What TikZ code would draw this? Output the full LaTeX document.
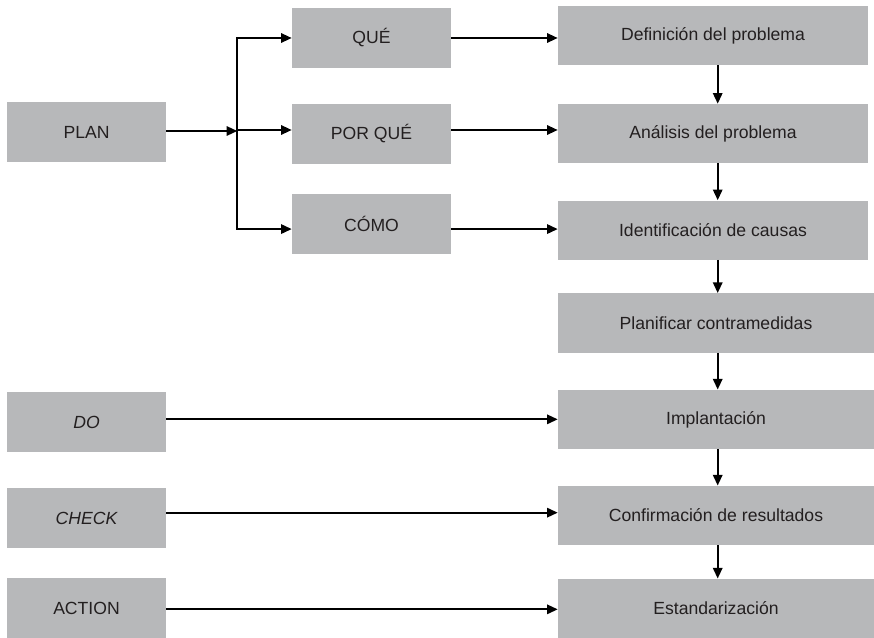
\documentclass[tikz,border=0pt]{standalone}
\usepackage{fontspec}
\setmainfont{Liberation Sans}
\usetikzlibrary{arrows.meta,calc}
\definecolor{boxgray}{HTML}{B7B8BA}
\definecolor{ink}{HTML}{231F20}
\begin{document}
\begin{tikzpicture}[x=0.75pt,y=-0.75pt,
  box/.style={fill=boxgray,draw=none,inner sep=0pt,text=ink,font=\fontsize{13.2}{15}\selectfont},
  lbox/.style={box,minimum width=119.25pt,minimum height=45pt},
  rbox/.style={box,minimum width=232.5pt,minimum height=44.25pt},
  rboxw/.style={box,minimum width=237pt,minimum height=44.5pt},
  arr/.style={line width=1.5pt,-{Triangle[length=8pt,width=7pt]}},
  ln/.style={line width=1.5pt,line cap=rect}]
\useasboundingbox (0,0) rectangle (874,638);
% left column
\node[lbox] (plan) at (86.5,132) {PLAN};
\node[lbox] (do) at (86.5,422) {\itshape DO};
\node[lbox] (check) at (86.5,518) {\itshape CHECK};
\node[lbox] (action) at (86.5,608) {ACTION};
% middle column
\node[lbox] (que) at (371.5,38) {QUÉ};
\node[lbox] (porque) at (371.5,134) {POR QUÉ};
\node[lbox] (como) at (371.5,224) {CÓMO};
% right column
\node[rbox] (def) at (713,35.5) {Definición del problema};
\node[rbox] (ana) at (713,133.5) {Análisis del problema};
\node[rbox] (ide) at (713,230) {Identificación de causas};
\node[rboxw] (pla) at (716,323) {Planificar contramedidas};
\node[rboxw] (imp) at (716,419.5) {Implantación};
\node[rboxw] (con) at (716,515.5) {Confirmación de resultados};
\node[rboxw] (est) at (716,608.5) {Estandarización};
% branch
\coordinate (bx) at (237.3,131);
\coordinate (vx) at (717.7,0);
\coordinate (bt) at (bx |- que.west);
\coordinate (bb) at ([yshift=-3.8pt]bx |- como.west);
\draw[arr] (plan.east |- bx) -- (bx);
\draw[ln] (bt) -- (bb);
\draw[arr] (bt) -- (que.west);
\draw[arr] ([yshift=3pt]bx |- porque) -- ([yshift=3pt]porque.west);
\draw[arr] (bb) -- ([yshift=-3.8pt]como.west);
% middle to right
\draw[arr] (que.east) -- (que.east -| def.west);
\draw[arr] ([yshift=3pt]porque.east) -- ([yshift=3pt]porque.east -| ana.west);
\draw[arr] ([yshift=-3.8pt]como.east) -- ([yshift=-3.8pt]como.east -| ide.west);
% left to right
\draw[arr] ([yshift=2pt]do.east) -- ([yshift=2pt]do.east -| imp.west);
\draw[arr] ([yshift=4pt]check.east) -- ([yshift=4pt]check.east -| con.west);
\draw[arr] ([yshift=-1pt]action.east) -- ([yshift=-1pt]action.east -| est.west);
% vertical chain
\draw[arr] (def.south -| vx) -- (ana.north -| vx);
\draw[arr] (ana.south -| vx) -- (ide.north -| vx);
\draw[arr] (ide.south -| vx) -- (pla.north -| vx);
\draw[arr] (pla.south -| vx) -- (imp.north -| vx);
\draw[arr] (imp.south -| vx) -- (con.north -| vx);
\draw[arr] (con.south -| vx) -- (est.north -| vx);
\end{tikzpicture}
\end{document}
